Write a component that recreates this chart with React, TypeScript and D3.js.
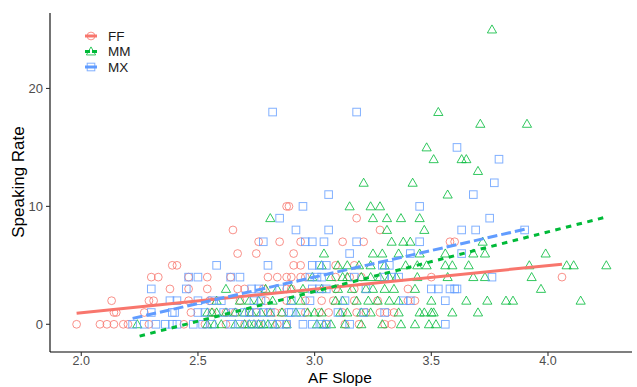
import React from 'react';
import * as d3 from 'd3';

// scatter rows: [speaking rate, AF slope values on that row]
const ffRows: [number, number[]][] = [
  [0, [1.98, 2.08, 2.11, 2.14, 2.18, 2.2, 2.29, 2.44, 2.53, 2.62, 2.7, 2.76, 2.84, 2.88, 3.05, 3.13, 3.19, 3.3, 3.33]],
  [1, [2.14, 2.15, 2.27, 2.47, 2.56, 2.62, 2.66, 2.72, 2.75, 2.8, 2.83, 2.86, 2.96, 3.02, 3.06, 3.12, 3.18, 3.22, 3.28, 3.31, 3.34]],
  [2, [2.13, 2.29, 2.31, 2.46, 2.55, 2.68, 2.79, 2.88, 2.96, 3.03, 3.08, 3.17, 3.27, 3.4, 3.43]],
  [3, [2.38, 2.46, 2.54, 2.67, 2.7, 2.78, 2.88, 2.9, 3.09, 3.17, 3.4]],
  [4, [2.3, 2.33, 2.46, 2.54, 2.64, 2.8, 2.84, 2.88, 2.9, 2.94, 2.96, 3.09, 3.15, 3.2, 3.5, 4.06]],
  [5, [2.39, 2.41, 2.91, 2.94, 3.09, 3.17]],
  [6, [2.67, 2.75, 2.91]],
  [7, [2.76, 2.85, 2.94, 3.12, 3.21, 3.58, 3.6]],
  [8, [2.65, 3.28]],
  [9, [3.18]],
  [10, [2.88, 2.89]],
];

const mmRows: [number, number[]][] = [
  [0, [2.24, 2.54, 2.57, 2.6, 2.66, 2.7, 2.72, 2.74, 2.76, 2.78, 2.8, 2.83, 2.88, 3.01, 3.04, 3.07, 3.13, 3.2, 3.29, 3.37, 3.43, 3.49, 3.52]],
  [1, [2.54, 2.56, 2.58, 2.62, 2.66, 2.7, 2.73, 2.77, 2.81, 2.86, 2.92, 2.97, 3.0, 3.03, 3.11, 3.14, 3.2, 3.24, 3.36, 3.45, 3.47, 3.5, 3.51, 3.59, 3.7]],
  [2, [2.58, 2.68, 2.72, 2.76, 2.82, 2.9, 2.94, 3.09, 3.12, 3.18, 3.23, 3.27, 3.32, 3.36, 3.5, 3.65, 3.74, 3.82, 3.85, 4.14]],
  [3, [2.62, 2.79, 2.84, 2.9, 2.95, 3.03, 3.1, 3.16, 3.22, 3.25, 3.3, 3.34, 3.43, 3.97]],
  [4, [2.99, 3.07, 3.12, 3.14, 3.2, 3.24, 3.28, 3.32, 3.35, 3.44, 3.57, 3.68, 3.73, 3.93]],
  [5, [3.03, 3.1, 3.14, 3.19, 3.24, 3.3, 3.39, 3.44, 3.48, 3.56, 3.59, 3.66, 3.92, 4.08, 4.11, 4.25]],
  [6, [3.04, 3.25, 3.29, 3.36, 3.45, 3.56, 3.68, 3.73, 3.99]],
  [7, [3.33, 3.38, 3.41, 3.72]],
  [8, [3.31, 3.47]],
  [9, [2.81, 3.25, 3.31, 3.37, 3.45]],
  [10, [3.15, 3.24, 3.28]],
  [11, [3.57]],
  [12, [3.21, 3.42]],
  [13, [3.7]],
  [14, [3.51, 3.63, 3.65]],
  [15, [3.48]],
  [17, [3.71, 3.91]],
  [18, [3.53]],
  [25, [3.76]],
];

const mxRows: [number, number[]][] = [
  [0, [2.22, 2.27, 2.32, 2.36, 2.39, 2.41, 2.48, 2.52, 2.56, 2.64, 2.68, 2.73, 2.77, 2.82, 2.85, 2.88, 2.95, 2.99, 3.03, 3.05, 3.15, 3.56]],
  [1, [2.3, 2.39, 2.4, 2.5, 2.53, 2.61, 2.65, 2.7, 2.72, 2.75, 2.78, 2.81, 2.89, 2.9, 2.94, 3.1, 3.21, 3.3]],
  [2, [2.38, 2.41, 2.5, 2.56, 2.6, 2.74, 2.77, 2.9, 2.98, 3.13, 3.38, 3.41, 3.56]],
  [3, [2.3, 2.45, 2.73, 2.76, 2.85, 2.99, 3.02, 3.05, 3.22, 3.5, 3.53, 3.58, 3.6, 3.61]],
  [4, [2.46, 2.5, 2.64, 2.68, 2.98, 3.01, 3.03, 3.17, 3.3, 3.33, 3.36, 3.76]],
  [5, [2.58, 2.8, 2.99, 3.02, 3.05, 3.29, 3.32]],
  [6, [3.15, 3.41, 3.63]],
  [7, [2.78, 2.96, 2.99, 3.04, 3.18, 3.45]],
  [8, [2.92, 3.06, 3.63, 3.69, 3.9]],
  [9, [2.85, 3.75]],
  [10, [2.95, 3.45]],
  [11, [3.06, 3.68]],
  [12, [3.77]],
  [14, [3.79]],
  [15, [3.61]],
  [18, [2.82, 3.18]],
];

// fitted lines: [x start, y start, x end, y end]
const ffFit = [1.98, 0.94, 4.06, 5.1];
const mmFit = [2.25, -1.0, 4.25, 9.1];
const mxFit = [2.22, 0.5, 3.91, 8.1];

const groups = ['FF', 'MM', 'MX'];
const xTicks = [2.0, 2.5, 3.0, 3.5, 4.0];
const yTicks = [0, 10, 20];

const colors: Record<string, string> = { FF: '#F8766D', MM: '#00BA38', MX: '#619CFF' };
const dashes: Record<string, string | undefined> = { FF: undefined, MM: '5.5,5.5', MX: '10,4' };

const W = 637;
const H = 387;

function Shape({ g, cx, cy }: { g: string; cx: number; cy: number }) {
  const c = colors[g];
  if (g === 'FF') return <circle cx={cx} cy={cy} r={3.9} fill="none" stroke={c} strokeWidth={1} opacity={0.8} />;
  if (g === 'MX') return <rect x={cx - 3.8} y={cy - 3.8} width={7.6} height={7.6} fill="none" stroke={c} strokeWidth={1} opacity={0.8} />;
  const s = 4.6;
  const p = `M${cx},${cy - s}L${cx + s},${cy + s * 0.75}L${cx - s},${cy + s * 0.75}Z`;
  return <path d={p} fill="none" stroke={c} strokeWidth={1} opacity={0.8} />;
}

export default function App() {
  const x = d3.scaleLinear().domain([1.866, 4.36]).range([50, 632]);
  const y = d3.scaleLinear().domain([-2.35, 26.4]).range([352, 13]);

  const flat = (rows: [number, number[]][]) => rows.flatMap(([v, xs]) => xs.map((a) => [a, v]));
  const pts = [
    ...flat(ffRows).map((d) => ({ g: 'FF', d })),
    ...flat(mmRows).map((d) => ({ g: 'MM', d })),
    ...flat(mxRows).map((d) => ({ g: 'MX', d })),
  ];
  const fits: [string, number[]][] = [['FF', ffFit], ['MM', mmFit], ['MX', mxFit]];
  const line = d3.line<number[]>().x((d) => x(d[0])).y((d) => y(d[1]));

  return (
    <svg width={W} height={H} style={{ position: 'absolute', left: 0, top: 0, background: '#fff' }}
      fontFamily="'Liberation Sans', Arial, sans-serif">
      {pts.map((p, i) => (
        <Shape key={i} g={p.g} cx={x(p.d[0])} cy={y(p.d[1])} />
      ))}
      {fits.map(([g, f]) => (
        <path key={g} d={line([[f[0], f[1]], [f[2], f[3]]]) || ''} stroke={colors[g]} strokeWidth={3}
          strokeDasharray={dashes[g]} fill="none" />
      ))}

      {/* axes */}
      <line x1={50} x2={50} y1={13} y2={352} stroke="#000" strokeWidth={1.1} />
      <line x1={50} x2={632} y1={352} y2={352} stroke="#000" strokeWidth={1.1} />
      {xTicks.map((t) => (
        <g key={t}>
          <line x1={x(t)} x2={x(t)} y1={352} y2={356} stroke="#333" strokeWidth={1.1} />
          <text x={x(t)} y={364.5} textAnchor="middle" fontSize={12.5} fill="#4D4D4D">{t.toFixed(1)}</text>
        </g>
      ))}
      {yTicks.map((t) => (
        <g key={t}>
          <line x1={46} x2={50} y1={y(t)} y2={y(t)} stroke="#333" strokeWidth={1.1} />
          <text x={43} y={y(t) + 4.5} textAnchor="end" fontSize={13} fill="#4D4D4D">{t}</text>
        </g>
      ))}
      <text x={340} y={383} textAnchor="middle" fontSize={15.5} fill="#000">AF Slope</text>
      <text transform={`translate(24,182) rotate(-90)`} textAnchor="middle" fontSize={17} fill="#000">Speaking Rate</text>

      {/* legend */}
      {groups.map((g, i) => {
        const cy = 36 + i * 15.5;
        return (
          <g key={g}>
            <line x1={85} x2={97} y1={cy} y2={cy} stroke={colors[g]} strokeWidth={3} strokeDasharray={g === 'MM' ? '5,2' : undefined} />
            <Shape g={g} cx={91} cy={cy} />
            <text x={108} y={cy + 4.5} fontSize={13.5} fill="#1a1a1a">{g}</text>
          </g>
        );
      })}
    </svg>
  );
}
